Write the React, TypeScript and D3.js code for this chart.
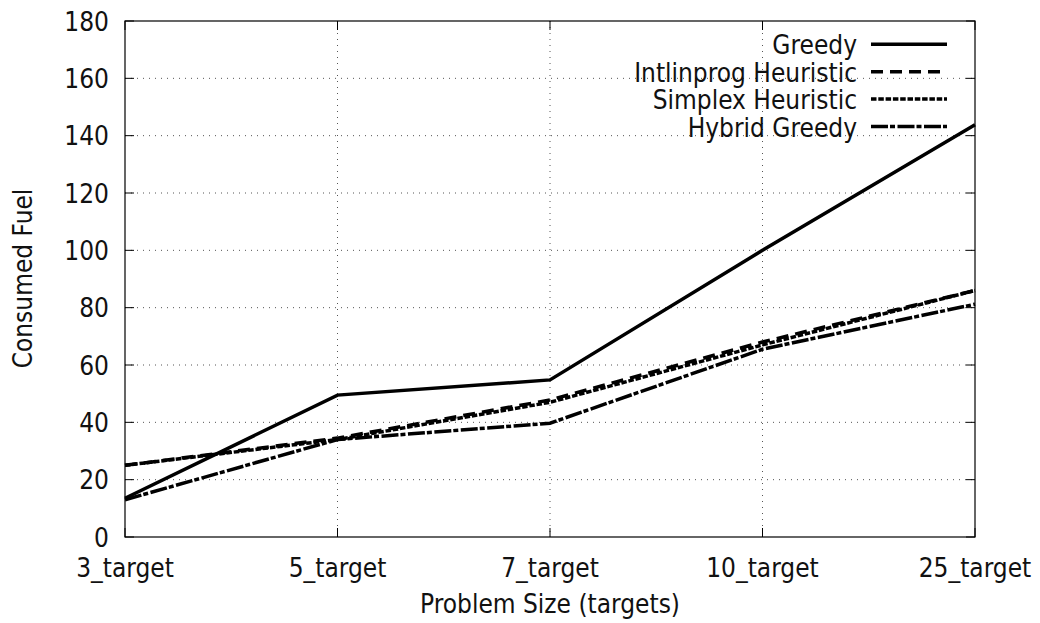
import React from "react";
import * as d3 from "d3";

const categories = ["3_target", "5_target", "7_target", "10_target", "25_target"];
const greedy = [13.5, 49.5, 54.8, 100, 143.8];
const intlinprog = [25, 34.5, 47.8, 68, 86];
const simplex = [25, 34, 47, 67, 86];
const hybrid = [13, 34, 39.7, 65.5, 81.2];
const yTicks = [0, 20, 40, 60, 80, 100, 120, 140, 160, 180];

const series = [
  { name: "Greedy", values: greedy, dash: "none" },
  { name: "Intlinprog Heuristic", values: intlinprog, dash: "12,7" },
  { name: "Simplex Heuristic", values: simplex, dash: "5.5,1.8" },
  { name: "Hybrid Greedy", values: hybrid, dash: "17,2,5,2.5" },
];

export default function App() {
  const W = 1040, H = 623;
  const L = 125, R = 975, T = 21, B = 537;
  const x = d3.scalePoint<string>().domain(categories).range([L, R]);
  const y = d3.scaleLinear().domain([0, 180]).range([B, T]);
  const line = d3
    .line<number>()
    .x((_, i) => x(categories[i]) as number)
    .y((d) => y(d));
  const font = "'DejaVu Sans Condensed', 'DejaVu Sans', sans-serif";
  const fs = 26;
  return (
    <svg
      width={W}
      height={H}
      style={{ position: "absolute", left: 0, top: 0, background: "#fff", fontStretch: "condensed" }}
      fontFamily={font}
    >
      {/* grid */}
      {yTicks.slice(1, -1).map((t) => (
        <line key={"gy" + t} x1={L} x2={R} y1={y(t)} y2={y(t)} stroke="#555" strokeWidth={1} strokeDasharray="1,5" />
      ))}
      {categories.slice(1, -1).map((c) => (
        <line key={"gx" + c} x1={x(c)} x2={x(c)} y1={T} y2={B} stroke="#555" strokeWidth={1} strokeDasharray="1,5" />
      ))}
      {/* ticks */}
      {yTicks.map((t) => (
        <g key={"ty" + t}>
          <line x1={L} x2={L + 9} y1={y(t)} y2={y(t)} stroke="#000" />
          <line x1={R} x2={R - 9} y1={y(t)} y2={y(t)} stroke="#000" />
          <text x={109} y={y(t) + 9.5} textAnchor="end" fontSize={fs} fill="#111">
            {t}
          </text>
        </g>
      ))}
      {categories.map((c) => (
        <g key={"tx" + c}>
          <line x1={x(c)} x2={x(c)} y1={B} y2={B - 9} stroke="#000" />
          <line x1={x(c)} x2={x(c)} y1={T} y2={T + 9} stroke="#000" />
          <text x={x(c)} y={577} textAnchor="middle" fontSize={fs} fill="#111">
            {c}
          </text>
        </g>
      ))}
      <rect x={L} y={T} width={R - L} height={B - T} fill="none" stroke="#000" strokeWidth={1.2} />
      {/* lines */}
      {series.map((s) => (
        <path
          key={s.name}
          d={line(s.values) as string}
          fill="none"
          stroke="#000"
          strokeWidth={3.5}
          strokeDasharray={s.dash}
        />
      ))}
      {/* legend */}
      {series.map((s, i) => {
        const ly = 44.3 + i * 27.4;
        return (
          <g key={"lg" + s.name}>
            <text x={857} y={ly + 10} textAnchor="end" fontSize={fs} fill="#111">
              {s.name}
            </text>
            <line x1={871} x2={947} y1={ly} y2={ly} stroke="#000" strokeWidth={3.5} strokeDasharray={s.dash} />
          </g>
        );
      })}
      {/* axis titles */}
      <text x={550} y={613} textAnchor="middle" fontSize={fs} fill="#111">
        Problem Size (targets)
      </text>
      <text transform={`translate(32,${278.5}) rotate(-90)`} textAnchor="middle" fontSize={fs} fill="#111">
        Consumed Fuel
      </text>
    </svg>
  );
}
